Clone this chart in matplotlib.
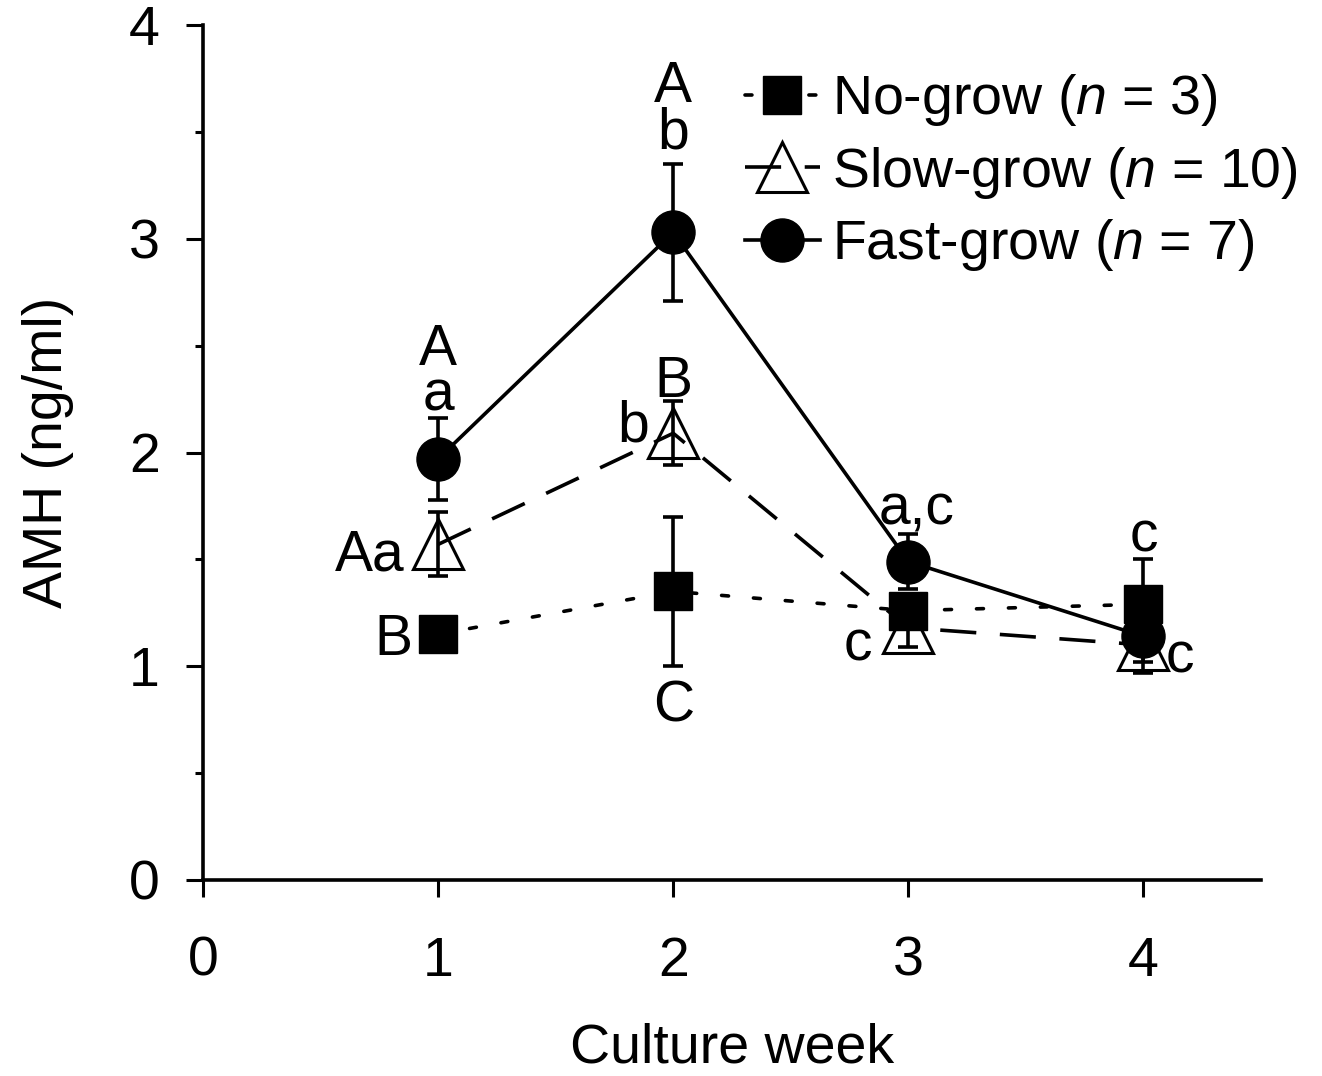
#!/usr/bin/env python3
"""AMH secretion by culture week for no-, slow- and fast-growing follicles."""

import matplotlib
matplotlib.use('Agg')
import matplotlib.pyplot as plt
from matplotlib.ticker import MultipleLocator

plt.rcParams['font.family'] = ['Liberation Sans', 'DejaVu Sans']
plt.rcParams['mathtext.fontset'] = 'custom'
plt.rcParams['mathtext.rm'] = 'Liberation Sans'
plt.rcParams['mathtext.it'] = 'Liberation Sans:italic'
plt.rcParams['lines.scale_dashes'] = False

weeks = [1, 2, 3, 4]

no_grow = [1.15, 1.35, 1.26, 1.29]
no_grow_err = [0.05, 0.35, 0.08, 0.21]

slow_grow = [1.57, 2.09, 1.18, 1.10]
slow_grow_err = [0.15, 0.15, 0.09, 0.13]

fast_grow = [1.97, 3.03, 1.49, 1.14]
fast_grow_err = [0.19, 0.32, 0.13, 0.12]

labels = ["No-grow ($n$ = 3)", "Slow-grow ($n$ = 10)", "Fast-grow ($n$ = 7)"]

# significance letters: (series, week index, text, dx px, dy px of last baseline, ha)
letters = [
    ("fast", 0, "A\na", 0, 48, "center"),
    ("slow", 0, "Aa", -34, -26, "right"),
    ("no", 0, "B", -26, -21, "right"),
    ("fast", 1, "A\nb", 0, 84, "center"),
    ("slow", 1, "B", 0, 36, "center"),
    ("slow", 1, "b", -24, -8, "right"),
    ("no", 1, "C", 0, -130, "center"),
    ("fast", 2, "a,c", 8, 37, "center"),
    ("slow", 2, "c", -36, -33, "right"),
    ("no", 3, "c", 0, 53, "center"),
    ("slow", 3, "c", 22, -28, "left"),
]

fig = plt.figure(figsize=(13.22, 10.76), dpi=100)
ax = fig.add_axes([203 / 1322, 1 - 880 / 1076, (1261 - 203) / 1322, (880 - 25) / 1076])

lw = 2.6
h_no, = ax.plot(weeks, no_grow, color='black', lw=lw, dashes=(5, 18),
                dash_capstyle='round', marker='s', markersize=27,
                markerfacecolor='black', markeredgecolor='black', zorder=3)
h_slow, = ax.plot(weeks, slow_grow, color='black', lw=lw, dashes=(26, 17),
                  marker='^', markersize=36, markerfacecolor='none',
                  markeredgecolor='black', markeredgewidth=2.2, zorder=4)
h_fast, = ax.plot(weeks, fast_grow, color='black', lw=lw, linestyle='-',
                  marker='o', markersize=31, markerfacecolor='black',
                  markeredgecolor='black', zorder=5)

for vals, errs in [(no_grow, no_grow_err), (slow_grow, slow_grow_err),
                   (fast_grow, fast_grow_err)]:
    ax.errorbar(weeks, vals, yerr=errs, fmt='none', ecolor='black',
                elinewidth=2.6, capsize=7, capthick=2.6, zorder=6)

series = {"no": no_grow, "slow": slow_grow, "fast": fast_grow}
for key, i, txt, dx, dy, ha in letters:
    ax.annotate(txt, (weeks[i], series[key][i]), xytext=(dx, dy),
                textcoords='offset pixels', ha=ha, va='baseline',
                multialignment='center', linespacing=0.81,
                fontsize=41, zorder=7)

ax.set_xlim(0, 4.5)
ax.set_ylim(0, 4)
ax.set_xticks([0, 1, 2, 3, 4])
ax.yaxis.set_major_locator(MultipleLocator(1))
ax.yaxis.set_minor_locator(MultipleLocator(0.5))
ax.tick_params(axis='both', which='major', direction='out', length=12,
               width=2.2, labelsize=40)
ax.tick_params(axis='y', which='minor', direction='out', length=6, width=2.2)
ax.tick_params(axis='x', pad=28)
ax.tick_params(axis='y', pad=19)

for side in ['top', 'right']:
    ax.spines[side].set_visible(False)
for side in ['left', 'bottom']:
    ax.spines[side].set_linewidth(2.6)

ax.set_xlabel("Culture week", fontsize=40, labelpad=25)
ax.set_ylabel("AMH (ng/ml)", fontsize=40)
ax.yaxis.set_label_coords(-0.122, 0.5)

fig.legend([h_no, h_slow, h_fast], labels, loc='upper left',
           bbox_to_anchor=(745 / 1322, 1 - 72 / 1076), frameon=False,
           fontsize=40, borderpad=0, handlelength=1.35, handletextpad=0.22,
           labelspacing=0.3, borderaxespad=0)

fig.savefig("out.png", dpi=100)
plt.close(fig)
print("Saved out.png")
